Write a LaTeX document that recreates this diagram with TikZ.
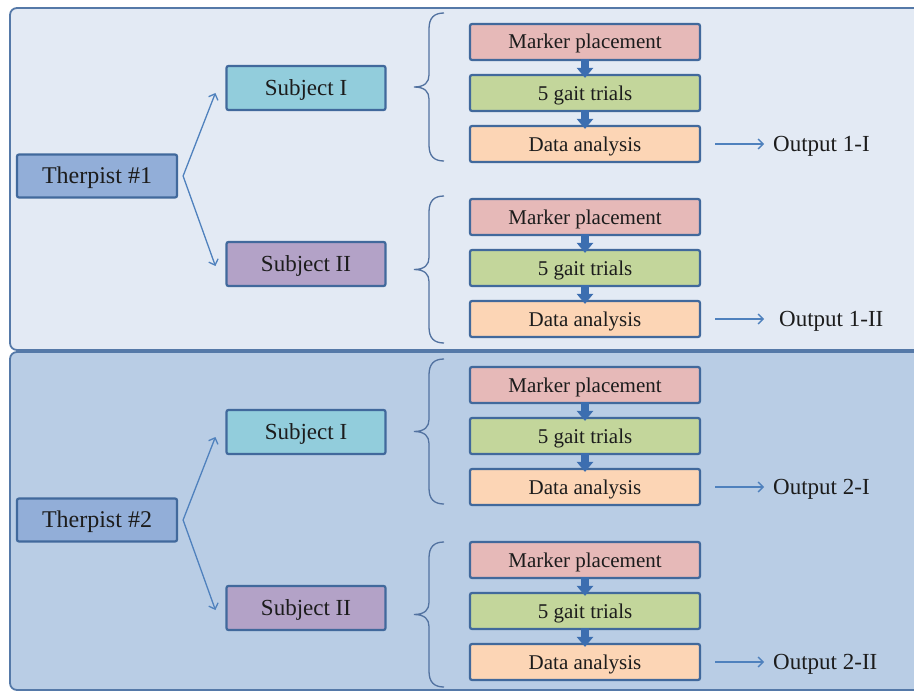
\documentclass[tikz,border=0pt]{standalone}
\usepackage{fontspec}
\setmainfont{Liberation Serif}
\usetikzlibrary{arrows.meta}

\definecolor{panelline}{HTML}{5579A8}
\definecolor{panelfillA}{HTML}{E3EAF4}
\definecolor{panelfillB}{HTML}{B9CDE5}
\definecolor{boxline}{HTML}{41699C}
\definecolor{therfill}{HTML}{92AED8}
\definecolor{subjAfill}{HTML}{92CDDC}
\definecolor{subjBfill}{HTML}{B3A2C7}
\definecolor{markfill}{HTML}{E6B9B8}
\definecolor{gaitfill}{HTML}{C3D69B}
\definecolor{datafill}{HTML}{FCD5B5}
\definecolor{arrowblue}{HTML}{4F81BD}
\definecolor{fatblue}{HTML}{3C6EB0}
\definecolor{bracecol}{HTML}{5272A0}
\definecolor{txt}{HTML}{1C1C1C}

\begin{document}
\begin{tikzpicture}[x=1pt,y=-1pt,
  panel/.style={draw=panelline, line width=1.8pt, rounded corners=7pt},
  box/.style={draw=boxline, line width=2.2pt, rounded corners=2pt, inner sep=0pt,
    text=txt, text depth=0pt},
  procbox/.style={box, minimum width=230pt, minimum height=36pt,
    font=\fontsize{21}{24}\selectfont, text height=14pt},
  therbox/.style={box, fill=therfill, minimum width=160pt, minimum height=43pt,
    font=\fontsize{24}{27}\selectfont, text height=15.8pt},
  subjbox/.style={box, minimum width=159pt, minimum height=44pt,
    font=\fontsize{23}{26}\selectfont, text height=15.2pt},
  outtext/.style={inner sep=0pt, text=txt, text height=15.2pt, text depth=0pt,
    font=\fontsize{23}{26}\selectfont, anchor=west},
  thinarrow/.style={draw=arrowblue, line width=1.3pt, -{Straight Barb[length=5pt,width=10pt]}},
  fatarrow/.style={draw=fatblue, line width=8pt, -{Triangle[length=10pt,width=16pt]}},
  bracesty/.style={draw=bracecol, line width=1.3pt}
]
\clip (0,0) rectangle (914,693);

% two therapist panels, running off the right edge
\draw[panel, fill=panelfillA] (10,8) rectangle (940,350);
\draw[panel, fill=panelfillB] (10,352) rectangle (940,690);

% therapists and subjects
\node[therbox] (t1) at (97,176) {Therpist \#1};
\node[subjbox, fill=subjAfill] (s1a) at (306,88) {Subject I};
\node[subjbox, fill=subjBfill] (s1b) at (306,264) {Subject II};
\node[therbox] (t2) at (97,520) {Therpist \#2};
\node[subjbox, fill=subjAfill] (s2a) at (306,432) {Subject I};
\node[subjbox, fill=subjBfill] (s2b) at (306,608) {Subject II};

\draw[thinarrow] ([xshift=5pt]t1.east) -- ([xshift=-10pt,yshift=-5pt]s1a.west);
\draw[thinarrow] ([xshift=5pt]t1.east) -- ([xshift=-10pt,yshift=-2pt]s1b.west);
\draw[thinarrow] ([xshift=5pt]t2.east) -- ([xshift=-10pt,yshift=-5pt]s2a.west);
\draw[thinarrow] ([xshift=5pt]t2.east) -- ([xshift=-10pt,yshift=-2pt]s2b.west);

% per-subject procedure: brace, three steps, output
\foreach \i/\m/\t/\b/\ox/\lab in {1/42/13/161/773/Output 1-I,
                                 2/217/196/343/779/Output 1-II,
                                 3/385/359/504/773/Output 2-I,
                                 4/560/542/687/773/Output 2-II}{
  \pgfmathsetmacro{\c}{(\t+\b)/2}
  \draw[bracesty] (444,\t) .. controls (434,\t) and (429,{\t+5}) .. (429,{\t+16})
    -- (429,{\c-12}) .. controls (429,{\c-5}) and (425,\c) .. (414,\c)
    .. controls (425,\c) and (429,{\c+5}) .. (429,{\c+12})
    -- (429,{\b-16}) .. controls (429,{\b-5}) and (434,\b) .. (444,\b);
  \node[procbox, fill=markfill] (m\i) at (585,\m) {Marker placement};
  \node[procbox, fill=gaitfill] (g\i) at (585,{\m+51}) {5 gait trials};
  \node[procbox, fill=datafill] (d\i) at (585,{\m+102}) {Data analysis};
  \draw[fatarrow] ([yshift=2pt]m\i.south) -- ([yshift=-4pt]g\i.north);
  \draw[fatarrow] ([yshift=2pt]g\i.south) -- ([yshift=-4pt]d\i.north);
  \node[outtext] (o\i) at (\ox,{\m+102}) {\lab};
  \coordinate (e\i) at (764,{\m+102});
  \draw[thinarrow] ([xshift=14pt]d\i.east) -- (e\i);
}
\end{tikzpicture}
\end{document}
